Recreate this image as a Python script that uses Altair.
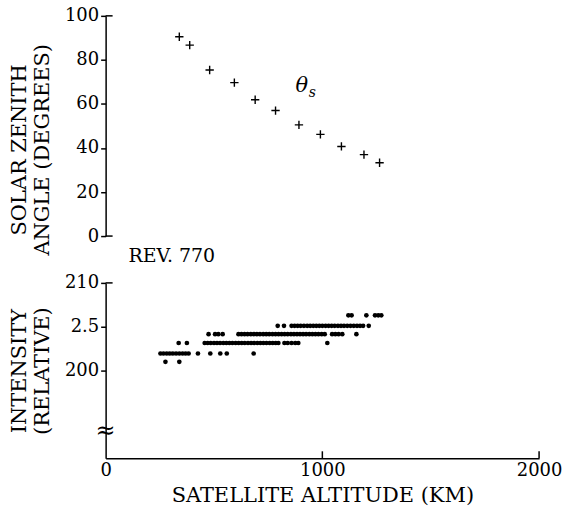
import altair as alt
import pandas as pd

FONT = "DejaVu Serif"

# ---- top panel: solar zenith angle ----
zen_alt_km = [340, 388, 480, 594, 690, 784, 892, 991, 1088, 1192, 1264]
zen_deg = [90.5, 86.7, 75.4, 69.7, 61.9, 57.0, 50.5, 46.2, 40.7, 37.0, 33.3]

# ---- bottom panel: intensity (discrete levels) ----
lvl_a = 206.3
row_a = [1120, 1135, 1203, 1243, 1258, 1272]
lvl_b = 205.1
row_b = [794, 823, 858, 872, 886, 900, 915, 930, 944, 958, 972, 986, 1000, 1015,
         1029, 1043, 1057, 1072, 1086, 1100, 1115, 1130, 1145, 1160, 1174, 1188, 1214]
lvl_c = 204.15
row_c = [475, 505, 520, 540, 613, 627, 641, 655, 670, 684, 698, 712, 727, 741, 755,
         770, 784, 798, 812, 826, 840, 855, 869, 883, 897, 911, 925, 940, 954, 968,
         982, 997, 1011, 1045, 1060, 1075, 1092, 1157]
lvl_d = 203.15
row_d = [337, 375, 457, 471, 485, 500, 514, 528, 543, 557, 571, 585, 600, 614, 628,
         642, 657, 671, 685, 700, 714, 728, 742, 757, 771, 785, 797, 825, 840, 858,
         875, 889, 1023]
lvl_e = 201.95
row_e = [253, 267, 282, 296, 310, 325, 340, 355, 369, 383, 426, 483, 529, 559, 683]
lvl_f = 201.0
row_f = [276, 340]

x_ticks = [0, 1000, 2000]
top_ticks = [0, 20, 40, 60, 80, 100]
bot_ticks = [200, 205, 210]

W = 435
H_TOP = 221
H_BOT = 176

zen_df = pd.DataFrame({"alt": zen_alt_km, "deg": zen_deg})
rows = []
for lvl, xs in [(lvl_a, row_a), (lvl_b, row_b), (lvl_c, row_c),
                (lvl_d, row_d), (lvl_e, row_e), (lvl_f, row_f)]:
    for x in xs:
        rows.append({"alt": x, "inten": lvl})
int_df = pd.DataFrame(rows)

xscale = alt.Scale(domain=[0, 2000], nice=False, zero=False)

plus_path = "M-1,0L1,0M0,-1L0,1"

top_pts = alt.Chart(zen_df).mark_point(
    shape=plus_path, filled=False, size=70, strokeWidth=1.4, color="black", opacity=1
).encode(
    x=alt.X("alt:Q", scale=xscale, axis=None),
    y=alt.Y("deg:Q", scale=alt.Scale(domain=[0, 100], nice=False),
            axis=alt.Axis(values=top_ticks, title=["SOLAR ZENITH", "ANGLE (DEGREES)"],
                          grid=False, tickSize=5, titlePadding=12, titleY=134)),
)

theta = alt.Chart(pd.DataFrame({"alt": [905], "deg": [68.3], "t": ["θ"]})).mark_text(
    font=FONT, fontSize=21, fontStyle="italic", align="center", baseline="middle", color="black"
).encode(x=alt.X("alt:Q", scale=xscale), y="deg:Q", text="t:N")
theta_sub = alt.Chart(pd.DataFrame({"alt": [905], "deg": [68.3], "t": ["s"]})).mark_text(
    font=FONT, fontSize=14, fontStyle="italic", align="left", baseline="middle",
    dx=7, dy=7, color="black"
).encode(x=alt.X("alt:Q", scale=xscale), y="deg:Q", text="t:N")

top_corners = alt.Chart(pd.DataFrame({"y": [0, 100]})).mark_rule(
    color="black", strokeWidth=1.5
).encode(y="y:Q", x=alt.value(0), x2=alt.value(7))

top = alt.layer(top_pts, theta, theta_sub, top_corners).properties(width=W, height=H_TOP)

bot_pts = alt.Chart(int_df).mark_circle(size=22, color="black", opacity=1).encode(
    x=alt.X("alt:Q", scale=xscale,
            axis=alt.Axis(values=x_ticks, title="SATELLITE ALTITUDE (KM)", grid=False,
                          tickSize=0, labelPadding=3, titlePadding=5, format="d",
                          labelFlush=False)),
    y=alt.Y("inten:Q", scale=alt.Scale(domain=[190, 210], nice=False, zero=False),
            axis=alt.Axis(values=bot_ticks, title=["INTENSITY", "(RELATIVE)"], grid=False,
                          tickSize=5, titlePadding=12,
                          labelExpr="datum.value == 205 ? '2.5' : datum.label")),
)

x_inner_ticks = alt.Chart(pd.DataFrame({"x": x_ticks[1:]})).mark_rule(
    color="black", strokeWidth=1.5
).encode(x=alt.X("x:Q", scale=xscale), y=alt.value(H_BOT), y2=alt.value(H_BOT - 7))

bot_corner = alt.Chart(pd.DataFrame({"y": [210]})).mark_rule(
    color="black", strokeWidth=1.5
).encode(y="y:Q", x=alt.value(0), x2=alt.value(7))

brk = alt.Chart(pd.DataFrame({"t": ["≈"]})).mark_text(
    font=FONT, fontSize=24, align="center", baseline="middle", color="black"
).encode(x=alt.value(0), y=alt.value(149), text="t:N")

rev = alt.Chart(pd.DataFrame({"t": ["REV. 770"]})).mark_text(
    font=FONT, fontSize=19, align="left", baseline="alphabetic", color="black"
).encode(x=alt.value(23), y=alt.value(-21), text="t:N")

bottom = alt.layer(bot_pts, x_inner_ticks, bot_corner, brk, rev).properties(width=W, height=H_BOT)

chart = alt.vconcat(top, bottom, spacing=47, bounds="flush").properties(
    padding={"left": 8, "top": 6, "right": 0, "bottom": 4}, background="white"
).configure_view(stroke=None).configure_axis(
    domainColor="black", domainWidth=1.5, tickColor="black", tickWidth=1.5,
    labelFont=FONT, labelFontSize=18, labelColor="black",
    titleFont=FONT, titleFontSize=21, titleFontWeight="normal", titleColor="black",
)

chart.save("out.html", embed_options={"renderer": "svg", "actions": False})
